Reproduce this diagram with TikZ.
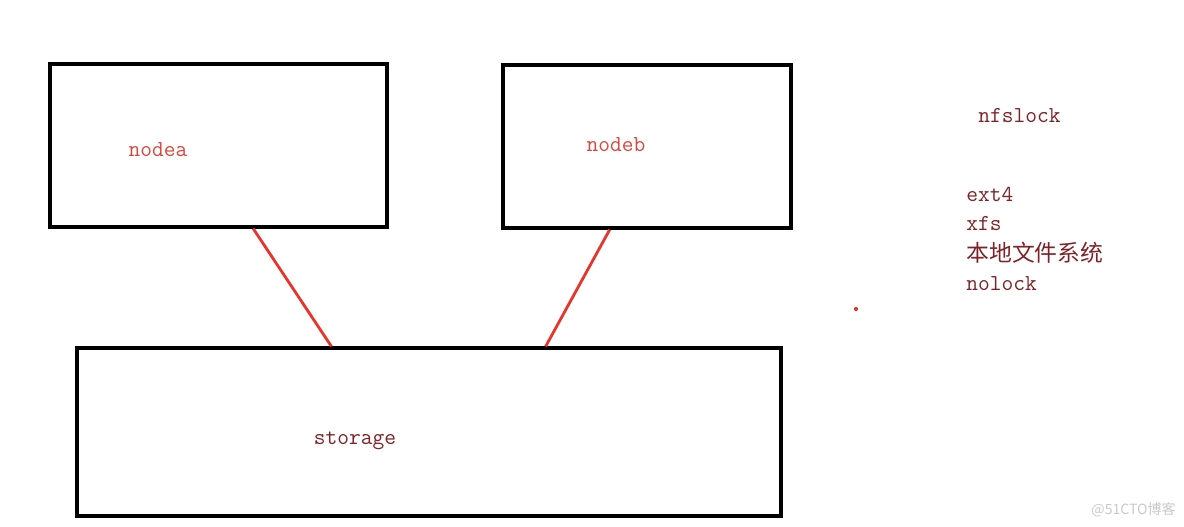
\documentclass[tikz,border=0pt]{standalone}
\usepackage{fontspec}
\newfontfamily\cjkfont{Noto Sans CJK SC}
\usepackage{tikz}
\usetikzlibrary{calc}
\definecolor{linkred}{HTML}{E8352C}
\definecolor{namered}{HTML}{D8473D}
\definecolor{notered}{HTML}{7E2228}
\definecolor{markgray}{HTML}{C8C8C8}

\begin{document}
\begin{tikzpicture}[x=0.02cm, y=-0.02cm,
  box/.style={draw, line width=1.8pt, minimum height=3.26cm},
  boxname/.style={font=\fontsize{13}{15}\selectfont\ttfamily, text=namered, inner sep=0pt},
  note/.style={font=\fontsize{13}{15}\selectfont\ttfamily, text=notered, inner sep=0pt, anchor=west},
  link/.style={draw=linkred, line width=1.6pt},
]
  \useasboundingbox (0,0) rectangle (1184,527);

  % Boxes
  \node[box, minimum width=6.74cm] (boxa) at (218.5,145.5) {};
  \node[box, minimum width=5.76cm] (boxb) at (647,146.5) {};
  \node[box, minimum width=14.08cm, minimum height=3.36cm] (store) at (429,432) {};

  % Box names
  \node[boxname] (nodea) at (158,150) {nodea};
  \node[boxname] (nodeb) at (616,145) {nodeb};
  \node[boxname, text=notered] (storage) at (355,441) {storage};

  % Links
  \draw[link] ($(boxa.south west)!0.602!(boxa.south east)$) -- ($(store.north west)!0.362!(store.north east)$);
  \draw[link] ($(boxb.south west)!0.372!(boxb.south east)$) -- ($(store.north west)!0.665!(store.north east)$);

  % Notes
  \node[note] (nfslock) at (978,116) {nfslock};
  \node[note] (ext) at (966,194) {ext4};
  \node[note] (xfs) at (966,224) {xfs};
  \node[note, font=\fontsize{13}{15}\selectfont\cjkfont] (local) at (966,253) {本地文件系统};
  \node[note] (nolock) at (966,284) {nolock};

  \fill[linkred] (856,309) circle (1.2pt);

  % Watermark
  \node[font=\fontsize{8}{9}\selectfont\cjkfont, text=markgray, anchor=east, inner sep=0pt] (mark) at (1176,510) {@51CTO博客};
\end{tikzpicture}
\end{document}
